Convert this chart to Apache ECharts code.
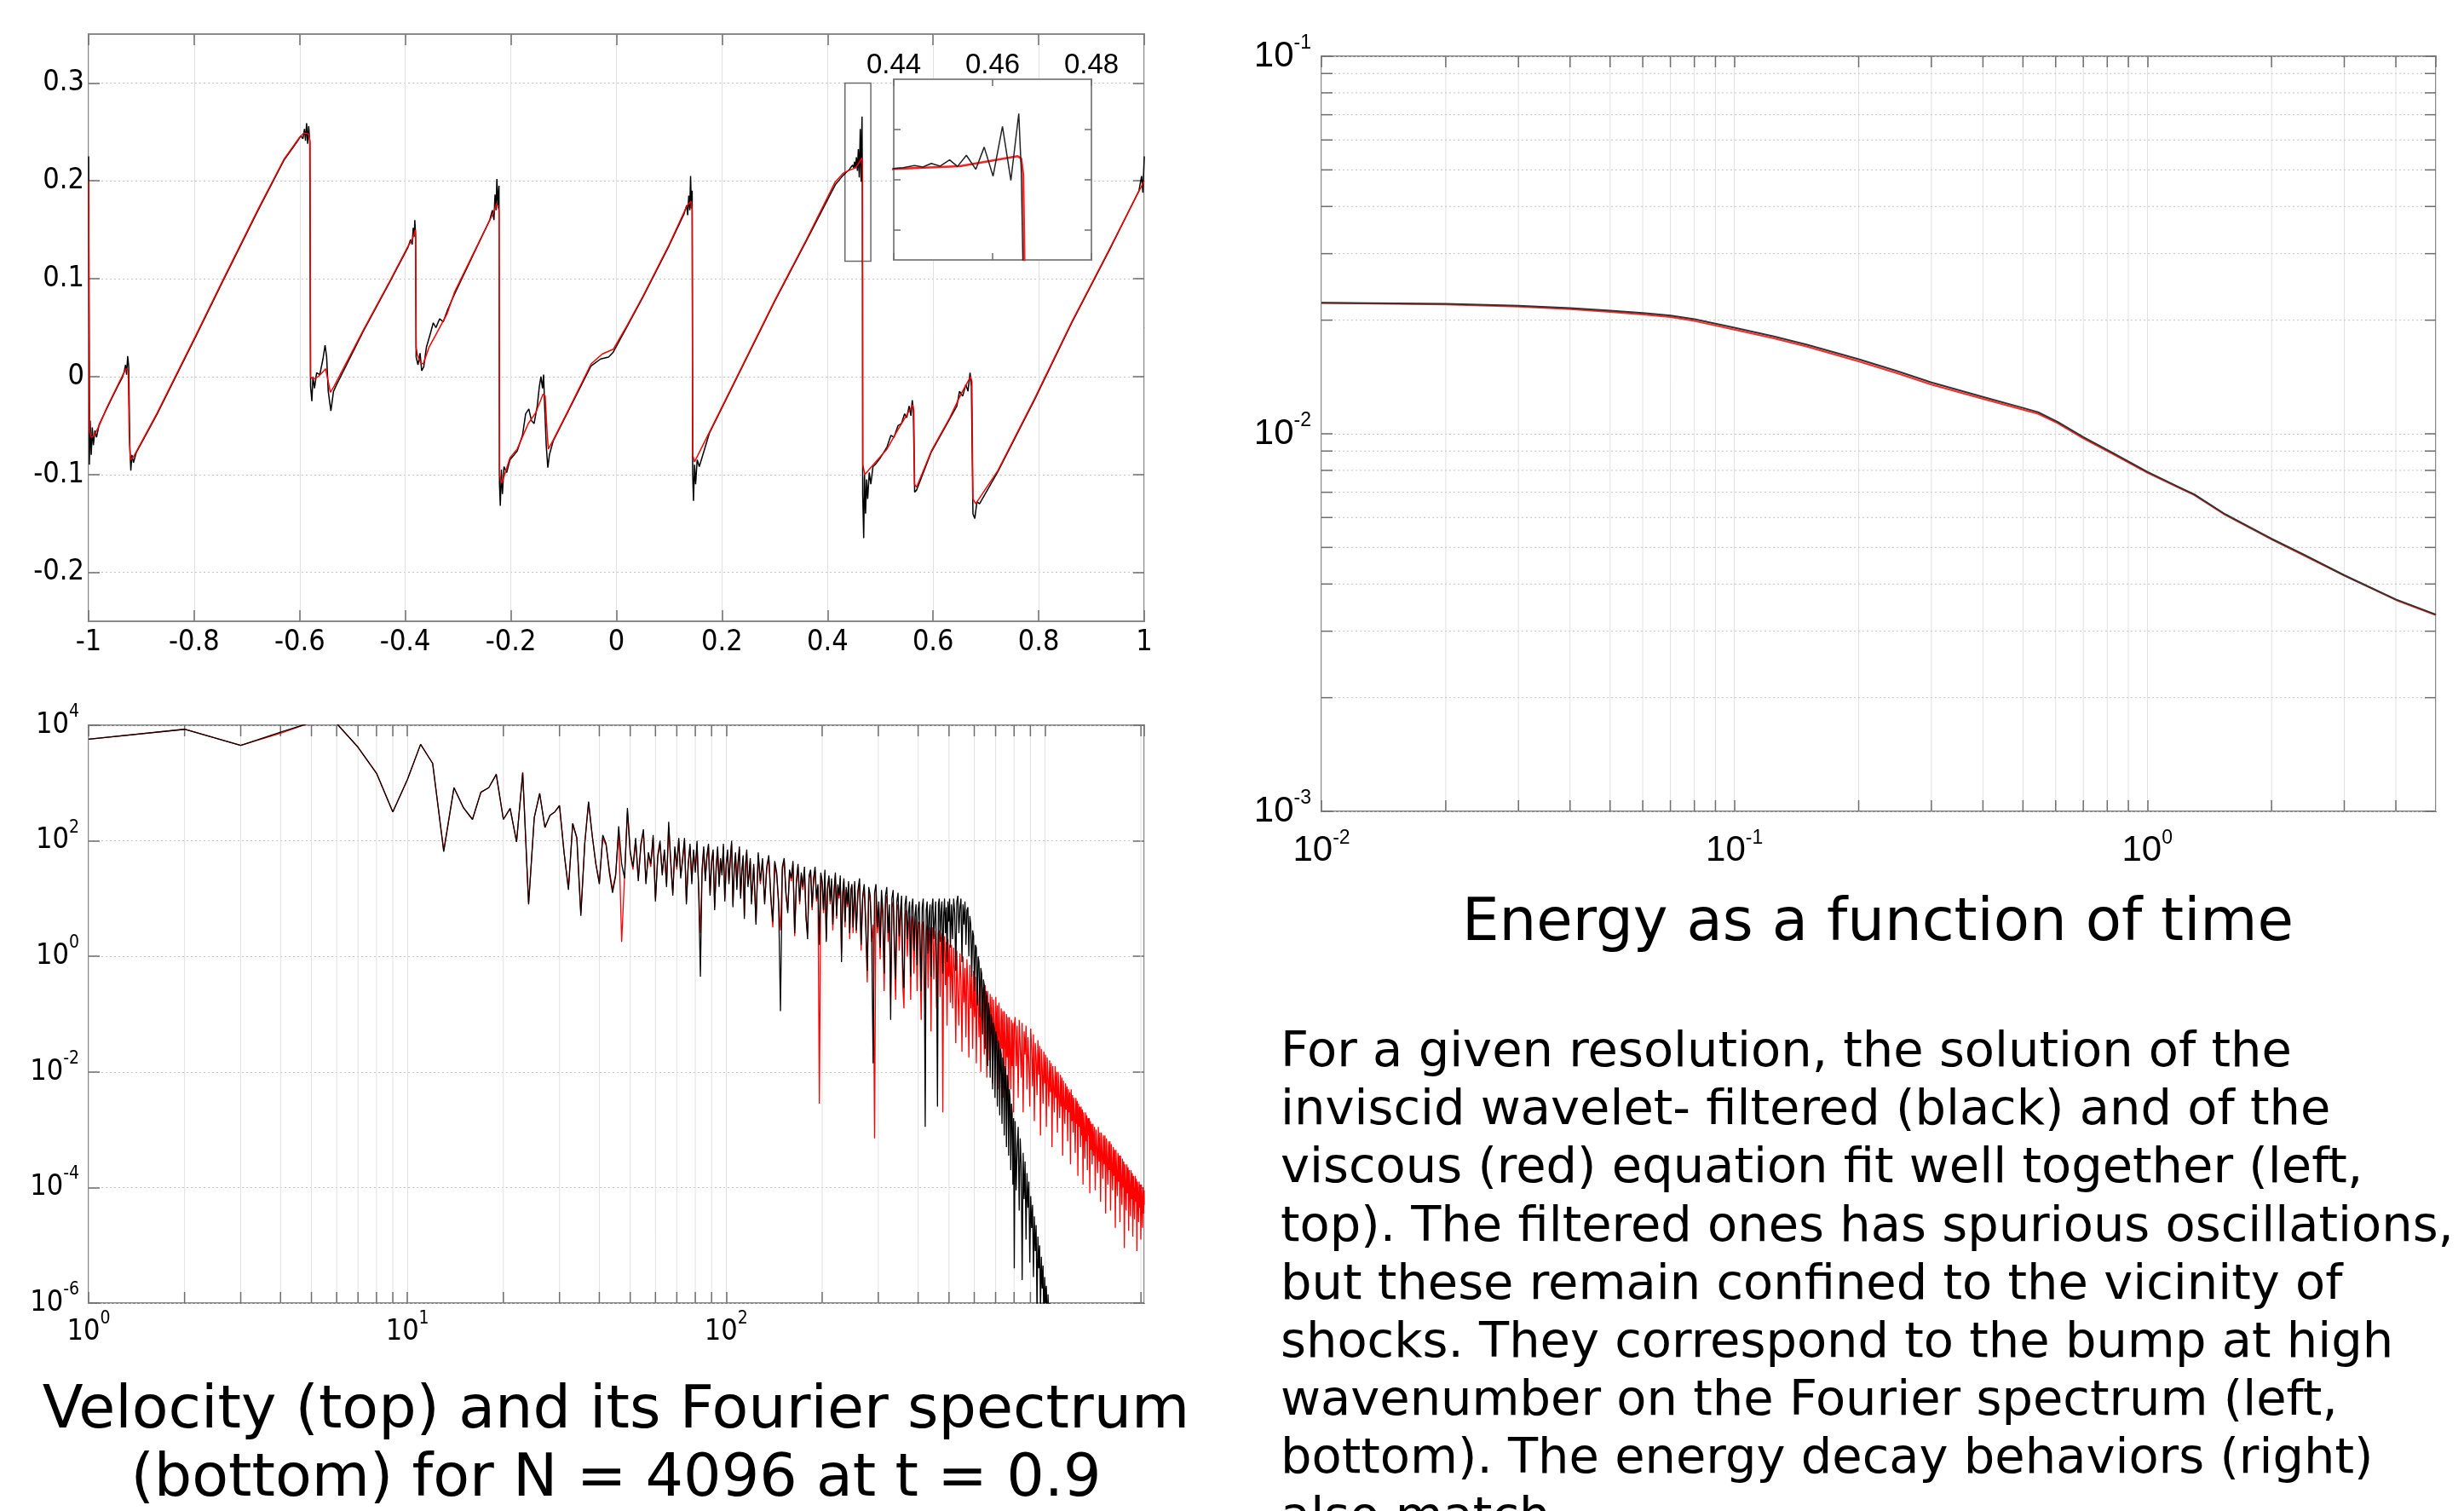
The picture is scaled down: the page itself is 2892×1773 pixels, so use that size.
<!DOCTYPE html>
<html><head><meta charset="utf-8">
<script src="https://cdn.jsdelivr.net/npm/echarts@6/dist/echarts.min.js"></script>
<style>html,body{margin:0;padding:0;background:#fff}#c{width:2892px;height:1773px}</style>
</head><body><div id="c"></div>
<script>
// ---------------- DATA ----------------
// Velocity u(x) at t = 0.9 : viscous (red) and inviscid wavelet-filtered (black)
const velRed = [
[-1.000,0.200],[-0.998,-0.055],[-0.995,-0.062],[-0.989,-0.060],[-0.980,-0.050],[-0.965,-0.031],[-0.955,-0.020],[-0.945,-0.009],[-0.935,0.002],[-0.929,0.008],[-0.925,0.006],[-0.923,-0.060],[-0.921,-0.085],[-0.915,-0.082],[-0.870,-0.037],[-0.797,0.042],[-0.748,0.096],[-0.678,0.172],[-0.630,0.222],[-0.601,0.244],[-0.592,0.249],[-0.583,0.248],[-0.5805,0.240],
[-0.5795,0.000],[-0.575,-0.003],[-0.565,0.000],[-0.556,0.005],[-0.551,0.008],[-0.546,-0.005],[-0.542,-0.016],[-0.535,-0.010],[-0.480,0.047],[-0.430,0.097],[-0.395,0.133],[-0.386,0.141],[-0.381,0.150],[-0.3805,0.140],
[-0.3795,0.030],[-0.377,0.022],[-0.371,0.014],[-0.366,0.013],[-0.355,0.030],[-0.342,0.043],[-0.321,0.064],[-0.307,0.086],[-0.270,0.127],[-0.2325,0.168],[-0.227,0.177],[-0.2225,0.170],
[-0.2215,-0.100],[-0.217,-0.109],[-0.2017,-0.083],[-0.188,-0.074],[-0.167,-0.048],[-0.153,-0.037],[-0.139,-0.018],[-0.135,-0.020],[-0.131,-0.060],[-0.129,-0.074],[-0.120,-0.065],[-0.090,-0.033],[-0.048,0.013],[-0.027,0.023],[-0.006,0.028],[0.020,0.052],[0.050,0.082],[0.100,0.135],[0.134,0.175],[0.1415,0.179],[0.1435,0.170],
[0.1445,-0.080],[0.148,-0.087],[0.176,-0.057],[0.232,0.004],[0.300,0.078],[0.360,0.140],[0.4146,0.199],[0.4300,0.208],[0.4400,0.2106],[0.4534,0.2134],[0.4651,0.2233],[0.4658,0.221],[0.4662,0.205],[0.4665,0.100],
[0.4668,-0.090],[0.4706,-0.100],[0.4916,-0.087],[0.5126,-0.074],[0.5336,-0.054],[0.5546,-0.035],[0.5616,-0.029],[0.5635,-0.035],
[0.5650,-0.110],[0.5686,-0.113],[0.5966,-0.076],[0.6316,-0.042],[0.6527,-0.018],[0.6710,0.000],[0.6735,-0.005],
[0.6755,-0.125],[0.6807,-0.130],[0.7227,-0.096],[0.7927,-0.022],[0.8627,0.056],[0.9328,0.129],[1.000,0.200]
];
const velBlack = [
[-1.000,0.225],[-0.9985,-0.090],[-0.997,-0.045],[-0.995,-0.080],[-0.993,-0.052],[-0.991,-0.070],[-0.988,-0.055],[-0.985,-0.062],[-0.980,-0.049],[-0.965,-0.032],[-0.955,-0.021],[-0.945,-0.010],[-0.937,-0.002],[-0.933,0.004],[-0.930,0.012],[-0.928,0.002],[-0.926,0.021],[-0.924,0.010],
[-0.922,-0.070],[-0.920,-0.096],[-0.918,-0.080],[-0.915,-0.088],[-0.910,-0.078],[-0.870,-0.038],[-0.797,0.041],[-0.748,0.095],[-0.678,0.171],[-0.630,0.221],[-0.605,0.240],[-0.598,0.246],[-0.594,0.243],[-0.591,0.253],[-0.589,0.241],[-0.587,0.259],[-0.585,0.238],[-0.583,0.256],[-0.581,0.240],
[-0.5795,-0.010],[-0.577,-0.025],[-0.575,0.000],[-0.572,-0.012],[-0.568,0.004],[-0.562,0.002],[-0.556,0.018],[-0.552,0.032],[-0.549,0.020],[-0.546,-0.015],[-0.541,-0.035],[-0.536,-0.015],[-0.530,-0.008],[-0.480,0.046],[-0.430,0.096],[-0.395,0.132],[-0.390,0.140],[-0.387,0.135],[-0.385,0.152],[-0.383,0.143],[-0.382,0.160],[-0.3805,0.145],
[-0.3795,0.020],[-0.376,0.012],[-0.372,0.024],[-0.369,0.006],[-0.365,0.010],[-0.360,0.030],[-0.352,0.045],[-0.347,0.055],[-0.342,0.050],[-0.335,0.059],[-0.328,0.056],[-0.320,0.068],[-0.307,0.084],[-0.270,0.126],[-0.240,0.160],[-0.235,0.170],[-0.232,0.160],[-0.230,0.186],[-0.228,0.170],[-0.2265,0.202],[-0.2245,0.175],[-0.2225,0.195],
[-0.2215,-0.110],[-0.220,-0.132],[-0.218,-0.095],[-0.216,-0.120],[-0.213,-0.092],[-0.208,-0.098],[-0.2017,-0.085],[-0.188,-0.076],[-0.178,-0.060],[-0.172,-0.038],[-0.166,-0.033],[-0.161,-0.045],[-0.156,-0.048],[-0.150,-0.030],[-0.146,-0.010],[-0.143,0.000],[-0.140,-0.012],[-0.138,0.002],[-0.136,-0.030],[-0.133,-0.070],[-0.130,-0.093],[-0.127,-0.080],[-0.120,-0.066],[-0.090,-0.034],[-0.048,0.011],[-0.030,0.018],[-0.015,0.020],[-0.006,0.025],[0.020,0.051],[0.050,0.081],[0.100,0.134],[0.128,0.166],[0.133,0.175],[0.135,0.165],[0.137,0.185],[0.139,0.170],[0.1405,0.205],[0.142,0.172],[0.1435,0.190],
[0.1445,-0.100],[0.146,-0.127],[0.148,-0.090],[0.150,-0.110],[0.153,-0.085],[0.157,-0.092],[0.176,-0.058],[0.232,0.003],[0.300,0.077],[0.360,0.139],[0.4146,0.196],[0.4300,0.206],[0.4419,0.2120],[0.4442,0.2140],[0.4459,0.2126],[0.4476,0.2162],[0.4494,0.2134],[0.4513,0.2196],[0.4529,0.2131],[0.4547,0.2242],[0.4566,0.2103],[0.4583,0.2324],[0.4601,0.2035],[0.4620,0.2530],[0.4637,0.1992],[0.4653,0.2658],[0.4658,0.2092],[0.4662,0.100],
[0.4666,-0.120],[0.4685,-0.165],[0.4700,-0.100],[0.4720,-0.140],[0.4740,-0.105],[0.4760,-0.125],[0.4790,-0.098],[0.4820,-0.110],[0.4860,-0.092],[0.4916,-0.089],[0.5000,-0.083],[0.5126,-0.072],[0.5200,-0.060],[0.5260,-0.062],[0.5336,-0.050],[0.5400,-0.048],[0.5460,-0.038],[0.5500,-0.042],[0.5546,-0.030],[0.5580,-0.040],[0.5605,-0.024],[0.5625,-0.035],
[0.5650,-0.118],[0.5686,-0.116],[0.5966,-0.077],[0.6316,-0.043],[0.6450,-0.030],[0.6500,-0.015],[0.6560,-0.020],[0.6620,-0.008],[0.6660,-0.015],[0.6700,0.004],[0.6725,-0.010],
[0.6755,-0.140],[0.6790,-0.145],[0.6830,-0.128],[0.6880,-0.130],[0.7227,-0.097],[0.7927,-0.023],[0.8627,0.055],[0.9328,0.128],[0.9900,0.190],[0.9950,0.205],[0.9975,0.188],[1.000,0.225]
];
const velXTicks = [-1, 1, 0.2];          // min, max, step
const velYTicks = [-0.2, 0.3, 0.1];      // labelled range, step
const velYRange = [-0.25, 0.35];
const insetX = [0.44, 0.48, 0.02];
const insetY = [0.12, 0.30];
const insetYTicks = [0.15, 0.25, 0.05];
const insetBox = [0.433, 0.482, 0.118, 0.300]; // zoom rectangle drawn on the main plot

// Fourier spectrum: wavenumber k and log10 of the spectral energy
const specK = [
1,2,3,4,5,6,7,8,9,10,11,12,13,14,15,16,17,18,19,20,21,22,23,24,25,26,27,28,29,30,31,32,33,34,35,36,37,38,39,40,41,42,43,44,45,46,47,48,49,50,
51,52,53,54,55,56,57,58,59,60,61,62,63,64,65,66,67,68,69,70,71,72,73,74,75,76,77,78,79,80,81,82,83,84,85,86,87,88,89,90,91,92,93,94,95,96,97,98,99,100,101,102,103,104,105,106,107,108,109,110,111,112,113,114,115,116,117,118,119,120,
122,124,126,128,130,132,134,136,138,140,142,144,146,148,150,152,154,156,158,160,162,164,166,168,170,172,174,176,178,180,182,184,186,188,190,192,194,196,198,200,202,204,206,208,210,212,214,216,218,220,222,224,226,228,230,232,234,236,238,240,242,244,246,248,250,
253,256,259,262,265,268,271,274,277,280,283,286,289,292,295,298,301,304,307,310,313,316,319,322,325,328,331,334,337,340,343,346,349,352,355,358,361,364,367,370,373,376,379,382,385,388,391,394,397,400,403,406,409,412,415,418,421,424,427,430,433,436,439,442,445,448,451,454,457,460,463,466,469,472,475,478,481,484,487,490,493,496,499,502,505,
509,513,517,521,525,529,533,537,541,545,549,553,557,561,565,569,573,577,581,585,589,593,597,601,605,609,613,617,621,625,629,633,637,641,645,649,653,657,661,665,669,673,677,681,685,689,693,697,701,705,709,713,717,721,725,729,733,737,741,745,749,753,757,761,765,769,773,777,781,785,789,793,797,801,
806,812,818,824,830,836,842,848,854,860,866,872,878,884,890,896,902,908,914,920,926,932,938,944,950,956,962,968,974,980,986,992,998,1004,1010,1016,1022,1028,1034,1040,1046,1052,1058,1064,1070,1076,1082,1088,1094,1100,1106,1112,1118,1124,1130,1136,1142,1148,1154,1160,1166,1172,1178,1184,1190,1196,1202,1208,1214,1220,1226,1232,1238,1244,1250,1256,1262,1268,1274,1280,1286,1292,1298,1304,1310,1316,1322,1328,1334,1340,1346,1352,1358,1364,1370,1376,1382,1388,1394,1400,1406,
1414,1422,1430,1438,1446,1454,1462,1470,1478,1486,1494,1502,1510,1518,1526,1534,1542,1550,1558,1566,1574,1582,1590,1598,1606,1614,1622,1630,1638,1646,1654,1662,1670,1678,1686,1694,1702,1710,1718,1726,1734,1742,1750,1758,1766,1774,1782,1790,1798,1806,1814,1822,1830,1838,1846,1854,1862,1870,1878,1886,1894,1902,1910,1918,1926,1934,1942,1950,1958,1966,1974,1982,1990,1998,2006,2014,2022,2030,2038,2046,2048
];
const specBlackLog = [
3.76,3.93,3.65,3.88,4.05,4.03,3.62,3.17,2.50,3.06, 3.67,3.34,1.81,2.92,2.57,2.37,2.84,2.92,3.15,2.37,
2.56,1.98,3.18,0.90,2.40,2.82,2.23,2.44,2.50,2.61, 1.80,1.15,2.30,2.05,0.70,1.95,2.68,2.09,1.60,1.25,
2.10,1.95,1.45,1.10,1.39,2.25,1.60,1.35,2.57,1.81,
1.55,2.05,1.30,1.95,2.20,1.25,1.80,1.60,2.10,0.95, 1.75,2.00,1.40,1.85,1.20,2.33,1.65,1.05,1.90,1.55,
2.05,1.35,1.70,2.05,0.90,1.60,1.95,1.25,1.85,1.45, 2.00,1.10,-0.35,1.50,1.90,1.30,1.75,1.95,1.05,1.65,
1.85,0.80,1.55,1.90,1.20,1.70,1.40,1.95,0.95,1.60, 1.85,1.25,1.70,2.00,0.85,1.55,1.80,1.15,1.65,1.90,
1.00,1.50,1.75,0.65,1.60,1.85,1.20,1.45,1.70,0.90,
1.60,0.55,1.80,1.30,1.70,0.90,1.55,1.75,1.05,0.60, 1.65,1.45,0.95,-0.95,1.55,1.70,1.10,0.75,1.50,1.35,
1.65,0.40,1.30,1.60,0.95,1.45,1.20,1.55,0.70,0.30, 1.40,1.50,0.85,1.35,1.55,1.00,1.25,0.20,1.45,1.30,
0.80,1.50,0.25,1.20,1.40,0.95,1.35,0.55,1.15,1.45, 0.70,1.25,1.05,1.40,-0.10,1.10,1.35,0.60,1.20,0.90,
1.30,0.40,1.15,1.25,0.50,
1.30,0.45,1.15,1.35,0.20,1.05,1.25,0.60,-0.25,1.20, 1.05,0.35,-1.85,1.10,1.25,0.50,0.95,0.15,1.15,0.80,
-0.30,1.05,1.20,0.40,0.90,-1.10,1.00,1.15,0.25,-0.40, 0.95,1.10,0.35,0.80,1.05,-0.20,-0.55,0.90,1.05,0.30,
0.75,0.95,-0.35,0.85,1.00,0.10,0.70,0.90,-0.15,0.80, 0.95,0.25,-0.60,0.85,1.00,0.20,-2.95,0.80,0.95,0.05,
0.70,0.90,-0.35,0.85,1.00,0.30,0.65,0.95,-0.20,-2.60, 0.90,1.00,0.25,0.80,0.95,-0.30,0.70,1.00,0.40,0.85,
-0.10,0.95,0.60,1.00,0.15,
0.90,0.30,1.00,0.75,-0.25,0.95,1.05,0.40,0.85,1.00, -0.10,0.90,0.55,0.95,0.20,0.80,0.85,0.00,0.70,0.55,
-0.35,0.45,0.35,-0.60,0.20,0.15,-0.85,0.00,-0.10,-1.05, -0.20,-0.30,-1.35,-0.40,-0.50,-1.60,-0.60,-0.70,-1.90,-0.80,
-0.95,-2.10,-1.00,-1.10,-2.30,-1.15,-1.25,-2.45,-1.30,-1.40, -2.60,-1.45,-1.55,-2.75,-1.60,-1.70,-2.90,-1.75,-1.85,-3.10,
-1.90,-2.00,-3.30,-2.05,-2.20,-3.45,-2.30,-2.45,-3.70,-2.55, -2.70,-3.95,-2.80,-5.40,
-2.85,-4.05,-3.30,-2.95,-4.40,-3.15,-3.60,-5.60,-3.40,-4.20, -3.55,-4.90,-3.75,-4.35,-3.90,-5.30,-4.15,-4.70,-4.30,-5.55,
-4.50,-5.10,-4.65,-6.20,-4.85,-5.40,-5.00,-6.10,-5.20,-5.75, -5.35,-6.40,-5.55,-6.00,-5.70,-6.50,-5.85,-6.30,-6.00,-6.60,
-6.20
];
const specRedLog = [
3.76,3.93,3.65,3.86,4.05,4.03,3.62,3.17,2.50,3.06, 3.67,3.34,1.84,2.92,2.57,2.37,2.84,2.92,3.15,2.37,
2.56,1.98,3.18,0.92,2.40,2.82,2.23,2.44,2.50,2.61, 1.80,1.18,2.30,2.05,0.75,1.95,2.66,2.09,1.60,1.28,
2.05,1.92,1.50,1.15,1.42,2.15,0.25,1.40,2.50,1.78,
1.50,2.00,1.35,1.90,2.15,1.30,1.75,1.55,2.05,1.00, 1.70,1.95,1.45,1.80,1.25,2.25,1.60,1.10,1.85,1.50,
2.00,1.40,1.65,2.00,0.95,1.55,1.90,1.30,1.80,1.50, 1.95,1.15,0.40,1.45,1.85,1.35,1.70,1.90,1.10,1.60,
1.80,0.85,1.50,1.85,1.25,1.65,1.45,1.90,1.00,1.55, 1.80,1.30,1.65,1.95,0.90,1.50,1.75,1.20,1.60,1.85,
1.05,1.45,1.70,0.70,1.55,1.80,1.25,1.40,1.65,0.95,
1.55,0.60,1.75,1.25,1.65,0.95,1.50,1.70,1.00,0.50, 1.60,1.40,0.90,0.45,1.50,1.65,1.05,0.80,1.45,1.30,
1.60,0.35,1.25,1.55,0.90,1.40,1.15,1.50,0.65,0.40, 1.35,1.45,0.80,1.30,1.50,0.95,1.20,-2.55,1.40,1.25,
0.75,1.45,0.30,1.15,1.35,0.90,1.30,0.45,1.10,1.40, 0.65,1.20,1.00,1.35,0.05,1.05,1.30,0.50,1.15,0.85,
1.25,0.30,1.10,1.20,0.40,
1.25,0.40,1.10,1.25,0.10,1.00,1.15,0.50,-0.45,1.10, 0.95,0.25,0.55,-3.15,1.15,0.40,0.85,-0.05,1.00,0.65,
-0.60,0.90,1.05,0.25,0.75,-0.70,0.85,0.95,0.05,-0.75, 0.80,0.90,0.10,0.60,0.85,-0.50,-0.90,0.70,0.80,0.00,
0.50,0.70,-0.75,0.60,0.70,-0.30,0.45,0.65,-0.60,0.50, 0.60,-0.20,-1.10,0.55,0.60,-0.45,-0.95,0.45,0.55,-0.55,
0.35,0.50,-1.30,0.45,0.50,-0.40,0.25,0.45,-0.90,-0.60, 0.40,0.45,-0.70,0.30,0.40,-2.70,0.20,0.35,-0.50,0.25,
-1.20,0.30,-0.35,0.20,-0.80,
0.20,-0.90,0.15,-0.30,-1.50,0.10,-0.60,-1.20,0.05,-0.40, -1.65,0.00,-0.80,-0.20,-1.40,-0.05,-0.55,-1.75,-0.15,-0.90,
-0.30,-1.60,-0.25,-1.05,-0.35,-1.85,-0.30,-0.75,-1.40,-0.40, -2.00,-0.45,-1.10,-0.55,-1.70,-0.50,-1.25,-2.10,-0.60,-0.95,
-1.80,-0.65,-1.35,-0.70,-2.20,-0.75,-1.15,-1.90,-0.70,-1.50, -0.85,-2.30,-0.80,-1.30,-2.00,-0.90,-1.60,-0.95,-2.45,-0.95,
-1.45,-2.15,-1.00,-1.75,-1.05,-2.55,-1.05,-1.60,-2.30,-1.10, -1.90,-1.15,-2.70,-1.20,
-1.05,-1.90,-1.20,-2.45,-1.10,-1.55,-2.10,-1.15,-2.70,-1.30, -1.70,-1.20,-2.30,-1.40,-1.85,-2.60,-1.25,-1.60,-2.25,-1.35,
-2.85,-1.50,-1.75,-2.40,-1.45,-2.05,-1.55,-3.10,-1.60,-1.95, -2.55,-1.65,-2.20,-1.70,-2.95,-1.75,-2.10,-2.60,-1.80,-2.35,
-1.85,-3.30,-1.90,-2.25,-2.70,-1.90,-2.45,-2.00,-3.05,-2.00, -2.40,-2.80,-2.05,-2.60,-2.10,-3.45,-2.15,-2.50,-2.90,-2.20,
-2.65,-2.25,-3.20,-2.30,-2.70,-2.35,-3.60,-2.30,-2.85,-2.40, -3.05,-2.45,-2.75,-3.40,-2.45,-2.90,-2.50,-3.80,-2.55,-2.95,
-2.60,-3.30,-2.60,-3.10,-2.65,-3.95,-2.70,-3.00,-3.50,-2.70, -3.20,-2.75,-3.70,-2.80,-3.10,-2.80,-4.10,-2.85,-3.35,-2.90,
-3.60,
-2.90,-3.45,-2.95,-4.05,-3.00,-3.30,-3.75,-2.95,-3.55,-3.05, -4.25,-3.05,-3.40,-3.85,-3.10,-3.60,-3.10,-4.45,-3.15,-3.50,
-3.95,-3.20,-3.70,-3.20,-4.40,-3.25,-3.60,-4.05,-3.30,-3.80, -3.35,-4.70,-3.35,-3.75,-4.15,-3.40,-3.90,-3.45,-4.60,-3.45,
-3.85,-4.30,-3.50,-4.00,-3.55,-5.05,-3.60,-3.95,-4.40,-3.60, -4.10,-3.65,-4.75,-3.70,-4.00,-4.50,-3.70,-4.20,-3.75,-4.85,
-3.80,-4.10,-4.55,-3.80,-4.25,-3.85,-5.10,-3.90,-4.15,-4.60, -3.90,-4.35,-3.95,-4.90,-3.95,-4.25,-4.70,-4.00,-4.45,-4.05,
-4.30
];
const specXMax = 2048;
const specYExp = [-6, 4, 2];
const specMinorK = [2,3,4,5,6,7,8,9,20,30,40,50,60,70,80,90,200,300,400,500,600,700,800,900,2000];

// Energy as a function of time
const energyT = [0.01,0.02,0.03,0.04,0.05,0.06,0.07,0.08,0.1,0.124,0.15,0.2,0.249,0.3,0.4,0.5,0.544,0.607,0.7,0.83,1.0,1.19,1.3,1.545,2.0,2.38,3.0,4.0,5.0];
const energyBlack = [0.02225,0.02208,0.02184,0.02152,0.02120,0.02089,0.02058,0.02012,0.01910,0.01814,0.01722,0.01576,0.01463,0.01368,0.01252,0.01171,0.01141,0.01075,0.00980,0.00887,0.00793,0.00723,0.00691,0.00612,0.00527,0.00480,0.00422,0.00364,0.00332];
const energyRed = [0.02222,0.02200,0.02172,0.02138,0.02104,0.02070,0.02038,0.01990,0.01888,0.01792,0.01702,0.01556,0.01445,0.01350,0.01237,0.01158,0.01130,0.01066,0.00973,0.00881,0.00789,0.00720,0.00688,0.00610,0.00525,0.00478,0.00421,0.00363,0.00331];
const energyXRange = [0.01, 5];
const energyYRange = [0.001, 0.1];
const energyMinorT = [0.02,0.03,0.04,0.05,0.06,0.07,0.08,0.09,0.2,0.3,0.4,0.5,0.6,0.7,0.8,0.9,2,3,4];
const energyMinorE = [0.002,0.003,0.004,0.005,0.006,0.007,0.008,0.009,0.02,0.03,0.04,0.05,0.06,0.07,0.08,0.09];

const leftTitle = ['Velocity (top) and its Fourier spectrum', '(bottom) for N = 4096 at t = 0.9'];
const rightTitle = 'Energy as a function of time';
const bodyText = [
'For a given resolution, the solution of the',
'inviscid wavelet- filtered (black) and of the',
'viscous (red) equation fit well together (left,',
'top). The filtered ones has spurious oscillations,',
'but these remain confined to the vicinity of',
'shocks. They correspond to the bump at high',
'wavenumber on the Fourier spectrum (left,',
'bottom). The energy decay behaviors (right)',
'also match.'
];

// ---------------- STYLE / LAYOUT ----------------
const NARROW = "'Liberation Sans Narrow','DejaVu Sans Condensed','Liberation Sans',sans-serif";
const REG = "'Liberation Sans','DejaVu Sans',sans-serif";
const TEXTF = "'DejaVu Sans',sans-serif";
const BORDER = '#8a8a8a', TICKC = '#6e6e6e', GRIDV = '#e2e2e2', GRIDH = '#c4c4c4';
const TICK = 13;
const L = Math.log10;

const G1 = {left:104, top:40, width:1239, height:689};
const G2 = {left:104, top:851, width:1239, height:678};
const G3 = {left:1551, top:66, width:1308, height:886};
const GI = {left:1049, top:93, width:232, height:212};
function subGrid(g, range, sub){
  const pp = g.height / (range[1]-range[0]);
  return {left:g.left, width:g.width, top:g.top + (range[1]-sub[1])*pp, height:(sub[1]-sub[0])*pp, show:false};
}
const G1L = subGrid(G1, velYRange, velYTicks);
const GIL = subGrid(GI, insetY, insetYTicks);

const tickStyle = {show:true, inside:true, length:TICK, lineStyle:{color:TICKC, width:1.5}};
const noLine = {show:false, onZero:false};
function tickOnly(ax){ return Object.assign({axisLine:noLine, axisLabel:{show:false}, splitLine:{show:false}, axisTick:tickStyle}, ax); }
function supFmt(hide){ return function(v){ const e = Math.round(v); if (Math.abs(v-e) > 1e-6 || (hide && hide(e))) return ''; return '{b|10}{s|' + e + '}'; }; }
function supRich(fs, sfs, lh, fam){ return {b:{fontSize:fs, lineHeight:lh, fontFamily:fam, color:'#000'}, s:{fontSize:sfs, lineHeight:sfs, fontFamily:fam, color:'#000', verticalAlign:'top'}}; }

function renderMinorV(params, api){
  const cs = params.coordSys;
  const x = api.coord([api.value(0), api.value(1)])[0];
  const y0 = cs.y, y1 = cs.y + cs.height;
  return {type:'group', children:[
    {type:'line', shape:{x1:x,y1:y0,x2:x,y2:y1}, style:{stroke:GRIDV, lineWidth:1}},
    {type:'line', shape:{x1:x,y1:y1,x2:x,y2:y1-TICK}, style:{stroke:TICKC, lineWidth:1.5}},
    {type:'line', shape:{x1:x,y1:y0,x2:x,y2:y0+TICK}, style:{stroke:TICKC, lineWidth:1.5}}
  ]};
}
function renderMinorH(params, api){
  const cs = params.coordSys;
  const y = api.coord([api.value(0), api.value(1)])[1];
  const x0 = cs.x, x1 = cs.x + cs.width;
  return {type:'group', children:[
    {type:'line', shape:{x1:x0,y1:y,x2:x1,y2:y}, style:{stroke:GRIDH, lineWidth:1, lineDash:[2,3]}},
    {type:'line', shape:{x1:x0,y1:y,x2:x0+TICK,y2:y}, style:{stroke:TICKC, lineWidth:1.5}},
    {type:'line', shape:{x1:x1,y1:y,x2:x1-TICK,y2:y}, style:{stroke:TICKC, lineWidth:1.5}}
  ]};
}

const gridBox = {show:true, borderColor:BORDER, borderWidth:2, backgroundColor:'transparent'};
const insetTick = Object.assign({}, tickStyle, {length:8});
const option = {
  animation:false,
  backgroundColor:'#fff',
  grid:[
    Object.assign({}, G1, gridBox),
    G1L,
    Object.assign({}, GI, gridBox, {backgroundColor:'#fff', z:10}),
    Object.assign({}, GIL, {z:10}),
    Object.assign({}, G2, gridBox),
    Object.assign({}, G3, gridBox)
  ],
  xAxis:[
    {gridIndex:0, type:'value', position:'bottom', min:velXTicks[0], max:velXTicks[1], interval:velXTicks[2], axisLine:noLine, axisTick:tickStyle,
     axisLabel:{fontSize:34, fontFamily:NARROW, color:'#000', margin:8}, splitLine:{show:true, lineStyle:{color:GRIDV, width:1}}},
    tickOnly({gridIndex:0, type:'value', position:'top', min:velXTicks[0], max:velXTicks[1], interval:velXTicks[2]}),
    {gridIndex:1, type:'value', show:false, min:velXTicks[0], max:velXTicks[1], axisLine:noLine},
    {gridIndex:2, type:'value', position:'top', min:insetX[0], max:insetX[1], interval:insetX[2], axisLine:noLine, axisTick:insetTick,
     axisLabel:{fontSize:33, fontFamily:REG, color:'#000', margin:0}, splitLine:{show:false}, z:11},
    tickOnly({gridIndex:2, type:'value', position:'bottom', min:insetX[0], max:insetX[1], interval:insetX[2], axisTick:insetTick, z:11}),
    {gridIndex:3, type:'value', show:false, min:insetX[0], max:insetX[1], axisLine:noLine},
    {gridIndex:4, type:'value', position:'bottom', min:0, max:L(specXMax), interval:1, axisLine:noLine, axisTick:tickStyle,
     axisLabel:{formatter:supFmt(e => e > 2), rich:supRich(34,21,52,NARROW), margin:8, showMaxLabel:false}, splitLine:{show:true, lineStyle:{color:GRIDV, width:1}}},
    tickOnly({gridIndex:4, type:'value', position:'top', min:0, max:L(specXMax), interval:1}),
    {gridIndex:5, type:'value', position:'bottom', min:L(energyXRange[0]), max:L(energyXRange[1]), interval:1, axisLine:noLine, axisTick:tickStyle,
     axisLabel:{formatter:supFmt(), rich:supRich(42,23,53,REG), margin:20, showMaxLabel:false}, splitLine:{show:true, lineStyle:{color:GRIDV, width:1}}},
    tickOnly({gridIndex:5, type:'value', position:'top', min:L(energyXRange[0]), max:L(energyXRange[1]), interval:1})
  ],
  yAxis:[
    {gridIndex:0, type:'value', show:false, min:velYRange[0], max:velYRange[1], axisLine:noLine},
    {gridIndex:1, type:'value', position:'left', min:velYTicks[0], max:velYTicks[1], interval:velYTicks[2], axisLine:noLine, axisTick:tickStyle,
     axisLabel:{fontSize:34, fontFamily:NARROW, color:'#000', margin:5}, splitLine:{show:true, lineStyle:{color:GRIDH, width:1, type:[2,3]}}},
    tickOnly({gridIndex:1, type:'value', position:'right', min:velYTicks[0], max:velYTicks[1], interval:velYTicks[2]}),
    {gridIndex:2, type:'value', show:false, min:insetY[0], max:insetY[1], axisLine:noLine},
    tickOnly({gridIndex:3, type:'value', position:'left', min:insetYTicks[0], max:insetYTicks[1], interval:insetYTicks[2], axisTick:insetTick, z:11}),
    tickOnly({gridIndex:3, type:'value', position:'right', min:insetYTicks[0], max:insetYTicks[1], interval:insetYTicks[2], axisTick:insetTick, z:11}),
    {gridIndex:4, type:'value', position:'left', min:specYExp[0], max:specYExp[1], interval:specYExp[2], axisLine:noLine, axisTick:tickStyle,
     axisLabel:{formatter:supFmt(), rich:supRich(34,21,52,NARROW), margin:11}, splitLine:{show:true, lineStyle:{color:GRIDH, width:1, type:[2,3]}}},
    tickOnly({gridIndex:4, type:'value', position:'right', min:specYExp[0], max:specYExp[1], interval:specYExp[2]}),
    {gridIndex:5, type:'value', position:'left', min:L(energyYRange[0]), max:L(energyYRange[1]), interval:1, axisLine:noLine, axisTick:tickStyle,
     axisLabel:{formatter:supFmt(), rich:supRich(42,23,53,REG), margin:12}, splitLine:{show:true, lineStyle:{color:GRIDH, width:1, type:[2,3]}}},
    tickOnly({gridIndex:5, type:'value', position:'right', min:L(energyYRange[0]), max:L(energyYRange[1]), interval:1})
  ],
  series:[
    {type:'line', xAxisIndex:0, yAxisIndex:0, data:velBlack, showSymbol:false, lineStyle:{color:'#000', width:1.5}, z:2, silent:true},
    {type:'line', xAxisIndex:0, yAxisIndex:0, data:velRed, showSymbol:false, lineStyle:{color:'#ff0000', width:1.5}, z:3, silent:true,
     markArea:{silent:true, itemStyle:{color:'rgba(0,0,0,0)', borderColor:'#6a6a6a', borderWidth:1.5},
       data:[[{coord:[insetBox[0], insetBox[3]]},{coord:[insetBox[1], insetBox[2]]}]]}},
    {type:'line', xAxisIndex:3, yAxisIndex:3, data:velRed, showSymbol:false, lineStyle:{color:'#ff2020', width:2.5}, z:12, silent:true},
    {type:'line', xAxisIndex:3, yAxisIndex:3, data:velBlack, showSymbol:false, lineStyle:{color:'#222', width:1.5}, z:13, silent:true},
    {type:'custom', xAxisIndex:6, yAxisIndex:6, renderItem:renderMinorV, silent:true, z:1,
     data:specMinorK.map(k => [L(k), specYExp[0]])},
    {type:'line', xAxisIndex:6, yAxisIndex:6, data:specK.map((k,i) => [L(k), specRedLog[i]]), showSymbol:false, lineStyle:{color:'#ff0000', width:1.3}, z:2, silent:true},
    {type:'line', xAxisIndex:6, yAxisIndex:6, data:specBlackLog.map((v,i) => [L(specK[i]), v]), showSymbol:false, lineStyle:{color:'#000', width:1.3}, z:3, silent:true},
    {type:'custom', xAxisIndex:8, yAxisIndex:8, renderItem:renderMinorV, silent:true, z:1,
     data:energyMinorT.map(t => [L(t), L(energyYRange[0])])},
    {type:'custom', xAxisIndex:8, yAxisIndex:8, renderItem:renderMinorH, silent:true, z:1,
     data:energyMinorE.map(e => [L(energyXRange[0]), L(e)])},
    {type:'line', xAxisIndex:8, yAxisIndex:8, data:energyT.map((t,i) => [L(t), L(energyRed[i])]), showSymbol:false, lineStyle:{color:'#ff2a2a', width:2}, z:2, silent:true},
    {type:'line', xAxisIndex:8, yAxisIndex:8, data:energyT.map((t,i) => [L(t), L(energyBlack[i])]), showSymbol:false, lineStyle:{color:'#333', width:2}, z:3, silent:true}
  ],
  graphic:[]
};
const tStyle = (txt, x, y, size, align) => ({type:'text', x:x, y:y, silent:true,
  style:{text:txt, font:size + 'px ' + TEXTF, fill:'#000', align:align, verticalAlign:'middle', textAlign:align, textVerticalAlign:'middle'}});
option.graphic.push(tStyle(leftTitle[0], 723, 1657, 70, 'center'));
option.graphic.push(tStyle(leftTitle[1], 723, 1737, 70, 'center'));
option.graphic.push(tStyle(rightTitle, 2204, 1085, 69, 'center'));
bodyText.forEach((line, i) => option.graphic.push(tStyle(line, 1503, 1236 + 68.2*i, 57.5, 'left')));

const chart = echarts.init(document.getElementById('c'), null, {renderer:'canvas', width:2892, height:1773});
chart.setOption(option);
</script>
</body></html>
